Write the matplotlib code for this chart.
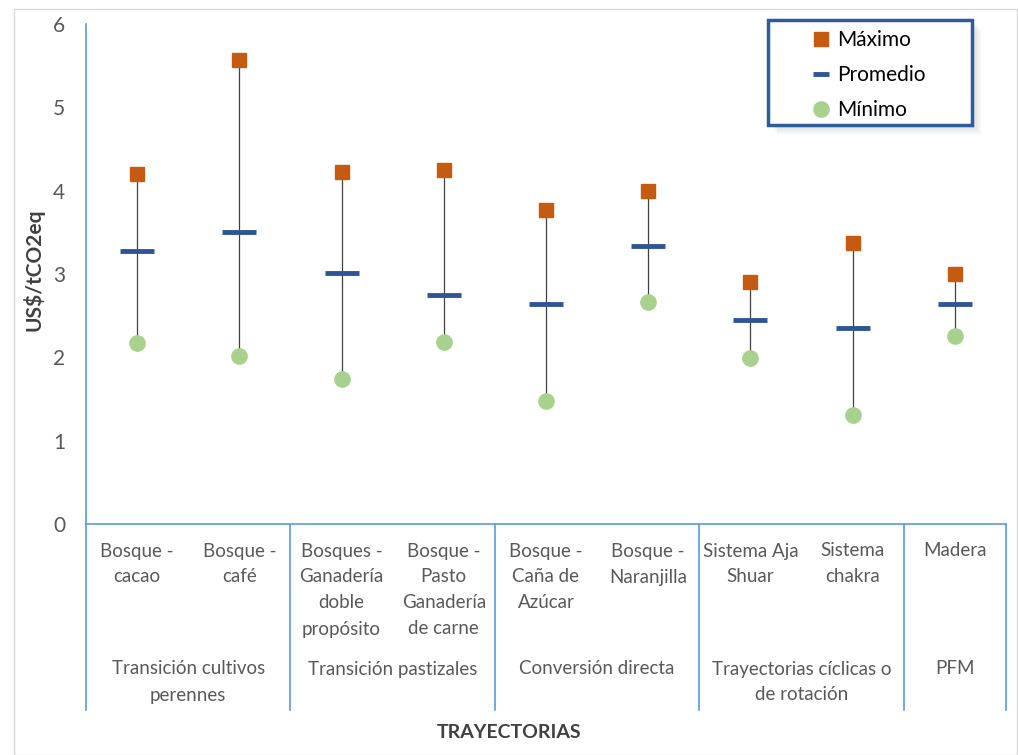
import numpy as np
import matplotlib.pyplot as plt
from matplotlib.lines import Line2D
from matplotlib.patches import Rectangle
import matplotlib.transforms as mtransforms

plt.rcParams['font.family'] = ['Lato', 'DejaVu Sans']

# data
categorias = ["Bosque -\ncacao", "Bosque -\ncafé", "Bosques -\nGanadería\ndoble\npropósito",
              "Bosque -\nPasto\nGanadería\nde carne", "Bosque -\nCaña de\nAzúcar",
              "Bosque -\nNaranjilla", "Sistema Aja\nShuar", "Sistema\nchakra", "Madera"]
grupos = ["Transición cultivos\nperennes", "Transición pastizales", "Conversión directa",
          "Trayectorias cíclicas o\nde rotación", "PFM"]
grupo_n = [2, 2, 2, 2, 1]

maximo = [4.20, 5.57, 4.22, 4.25, 3.77, 4.00, 2.90, 3.37, 3.00]
promedio = [3.28, 3.50, 3.01, 2.75, 2.64, 3.34, 2.45, 2.35, 2.64]
minimo = [2.17, 2.02, 1.74, 2.18, 1.48, 2.66, 1.99, 1.31, 2.26]

W, H = 1018, 755
fig = plt.figure(figsize=(W / 100, H / 100), dpi=100)
ax = fig.add_axes([86 / W, (H - 524) / H, 920 / W, 500 / H])

def fx(p):
    return p / W

def ypix(p):
    return (H - p) / H

# light border around the chart area
fig.patches.append(Rectangle((fx(14), 0), (W - 15) / W, (H - 9) / H, transform=fig.transFigure,
                             fill=False, edgecolor='#d9d9d9', linewidth=1))

x = np.arange(len(categorias))
ax.vlines(x, minimo, maximo, color='#404040', linewidth=0.9, zorder=1)
ax.plot(x, maximo, 's', color='#C55A11', markersize=10.5, zorder=3)
ax.plot(x, promedio, '_', color='#2F5597', markersize=24, mew=3.5, zorder=3)
ax.plot(x, minimo, 'o', color='#A9D18E', markersize=11, zorder=3)

ax.set_xlim(-0.5, len(categorias) - 0.5)
ax.set_ylim(0, 6)
ax.set_yticks(range(7))
ax.set_xticks([])
ax.tick_params(axis='y', length=0, labelsize=15, labelcolor='#595959', pad=15)
for s in ['top', 'right']:
    ax.spines[s].set_visible(False)
for s in ['left', 'bottom']:
    ax.spines[s].set_color('#5B9BD5')
    ax.spines[s].set_linewidth(1.2)

fig.text(fx(34), ypix(270), 'US$/tCO2eq', rotation=90, ha='center', va='center',
         fontsize=15, fontweight='bold', color='#404040')

# category and group labels below the axis, in pixel offsets
px = mtransforms.blended_transform_factory(ax.transData, fig.transFigure)

for i, c in enumerate(categorias):
    for j, line in enumerate(c.split('\n')):
        ax.text(i, ypix(551 + 26 * j), line, transform=px, ha='center', va='center',
                fontsize=13.5, color='#595959')

start = -0.5
bounds = [start]
for g, n in zip(grupos, grupo_n):
    mid = start + n / 2
    for j, line in enumerate(g.split('\n')):
        ax.text(mid, ypix(669 + 26 * j), line, transform=px, ha='center', va='center',
                fontsize=13.5, color='#595959')
    start += n
    bounds.append(start)

for b in bounds:
    ax.add_line(Line2D([b, b], [ypix(524), ypix(710)], transform=px, color='#5B9BD5',
                       linewidth=1.2, clip_on=False))

fig.text(fx(509), ypix(733), 'TRAYECTORIAS', ha='center', va='center', fontsize=14,
         fontweight='bold', color='#404040')

# legend box with a soft shadow, entries drawn without frame
for k in range(4):
    off = 3 + 2 * k
    fig.patches.append(Rectangle((fx(768 + off), ypix(125 + off)), 204 / W, 105 / H,
                                 transform=fig.transFigure, facecolor='#7f7f7f',
                                 edgecolor='none', alpha=0.06, zorder=4))
fig.patches.append(Rectangle((fx(768), ypix(125)), 204 / W, 105 / H, transform=fig.transFigure,
                             facecolor='white', edgecolor='#2E5E9A', linewidth=2.5, zorder=5))

handles = [Line2D([], [], ls='none', marker='s', color='#C55A11', markersize=10.5),
           Line2D([], [], ls='none', marker='_', color='#2F5597', markersize=12, mew=3.5),
           Line2D([], [], ls='none', marker='o', color='#A9D18E', markersize=11)]
leg = fig.legend(handles, ['Máximo', 'Promedio', 'Mínimo'], loc='upper left',
                 bbox_to_anchor=(fx(808), ypix(30)), fontsize=15, frameon=False,
                 handlelength=1.2, handletextpad=0.2, borderpad=0, labelspacing=0.72,
                 borderaxespad=0, labelcolor='black')
leg.set_zorder(6)

fig.savefig('out.png', dpi=100)
